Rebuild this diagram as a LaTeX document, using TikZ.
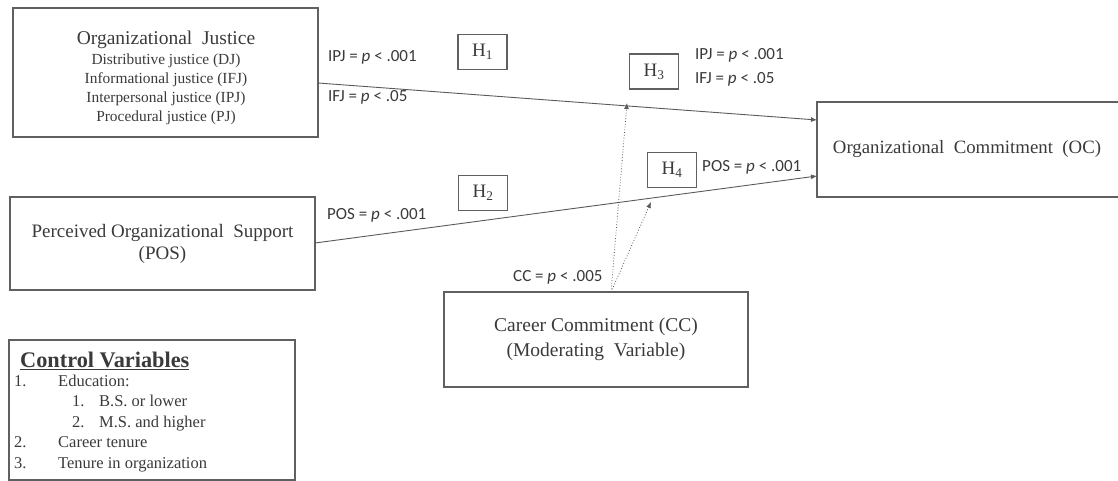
\documentclass[tikz,border=0pt]{standalone}
\usepackage{fontspec}
\setmainfont{Liberation Serif}
\newfontfamily\lblfont{Carlito}
\usetikzlibrary{arrows.meta,calc}
\definecolor{txt}{HTML}{3A3A3A}
\definecolor{ln}{HTML}{5A5A5A}
\definecolor{bx}{HTML}{606060}
\begin{document}
\begin{tikzpicture}[x=1pt,y=-1pt,
  bigbox/.style={draw=bx,line width=1.4pt,rectangle,inner sep=0pt,align=center,text=txt},
  hbox/.style={draw=bx,line width=1.2pt,rectangle,inner sep=0pt,minimum width=49pt,minimum height=35pt,text=txt,font=\fontsize{19}{20}\selectfont},
  lbl/.style={text=txt,inner sep=0pt,anchor=west,font=\lblfont\fontsize{17}{18}\selectfont},
  conn/.style={draw=ln,line width=0.9pt,-{Latex[length=6pt,width=5pt]}},
  modr/.style={draw=ln,line width=0.8pt,dotted,-{Latex[length=6pt,width=5pt]}}
]
\useasboundingbox (0,0) rectangle (1118,481);
\begin{scope}
\clip (0,0) rectangle (1118,481);
% main boxes
\node[bigbox,minimum width=305pt,minimum height=129pt] (oj) at (165.5,72.5) {};
\node[text=txt,align=center,inner sep=0pt,font=\fontsize{15.4}{19}\selectfont] (ojt) at (166,78) {{\fontsize{19.5}{22}\selectfont Organizational\ \ Justice}\\[1pt]
  Distributive justice (DJ)\\ Informational justice (IFJ)\\ Interpersonal justice (IPJ)\\ Procedural justice (PJ)};
\node[bigbox,minimum width=305pt,minimum height=93pt,font=\fontsize{19}{22}\selectfont] (pos) at (162.5,243.5) {Perceived Organizational\ \ Support\\(POS)};
\node[bigbox,minimum width=322pt,minimum height=95pt,font=\fontsize{18.8}{22}\selectfont] (oc) at (978,149.5) {Organizational\ \ Commitment\ \ (OC)\hspace*{22pt}};
\node[bigbox,minimum width=304pt,minimum height=95pt,font=\fontsize{19.5}{25}\selectfont] (cc) at (596,339.5) {Career Commitment (CC)\\(Moderating\ \ Variable)};
\node[bigbox,minimum width=286pt,minimum height=140pt] (cv) at (152,410) {};
\node[text=txt,anchor=north west,inner sep=0pt,align=left,font=\fontsize{16.5}{20.5}\selectfont] (cvt) at (14,352) {%
  \hspace*{6pt}{\fontsize{22.3}{23}\selectfont\bfseries\underline{Control Variables}}\\[-2pt]
  \makebox[44pt][l]{1.}Education:\\
  \hspace*{58pt}\makebox[27pt][l]{1.}B.S. or lower\\
  \hspace*{58pt}\makebox[27pt][l]{2.}M.S. and higher\\
  \makebox[44pt][l]{2.}Career tenure\\
  \makebox[44pt][l]{3.}Tenure in organization};
% hypothesis boxes
\node[hbox] (h1) at (482.5,52) {H\textsubscript{1}};
\node[hbox] (h3) at (654,71.5) {H\textsubscript{3}};
\node[hbox] (h2) at (483,193) {H\textsubscript{2}};
\node[hbox] (h4) at (672,170) {H\textsubscript{4}};
% connector coordinates
\coordinate (ojout) at (318,83);
\coordinate (ocin1) at (817,120);
\coordinate (posout) at (315,243);
\coordinate (ocin2) at (817,176);
\coordinate (ccout) at (611,292);
\coordinate (m1) at (627,103);
\coordinate (m2) at (651,202);
\draw[conn] (ojout) -- (ocin1);
\draw[conn] (posout) -- (ocin2);
\draw[modr] (ccout) -- (m1);
\draw[modr] (ccout) -- (m2);
% labels
\node[lbl] (l1) at (328,57) {IPJ = \textit{p} < .001};
\node[lbl] (l2) at (328,97) {IFJ = \textit{p} < .05};
\node[lbl] (l3) at (695,55) {IPJ = \textit{p} < .001};
\node[lbl] (l4) at (695,79) {IFJ = \textit{p} < .05};
\node[lbl] (l5) at (702,167) {POS = \textit{p} < .001};
\node[lbl] (l6) at (327,215) {POS = \textit{p} < .001};
\node[lbl] (l7) at (513,277) {CC = \textit{p} < .005};
\end{scope}
\end{tikzpicture}
\end{document}
